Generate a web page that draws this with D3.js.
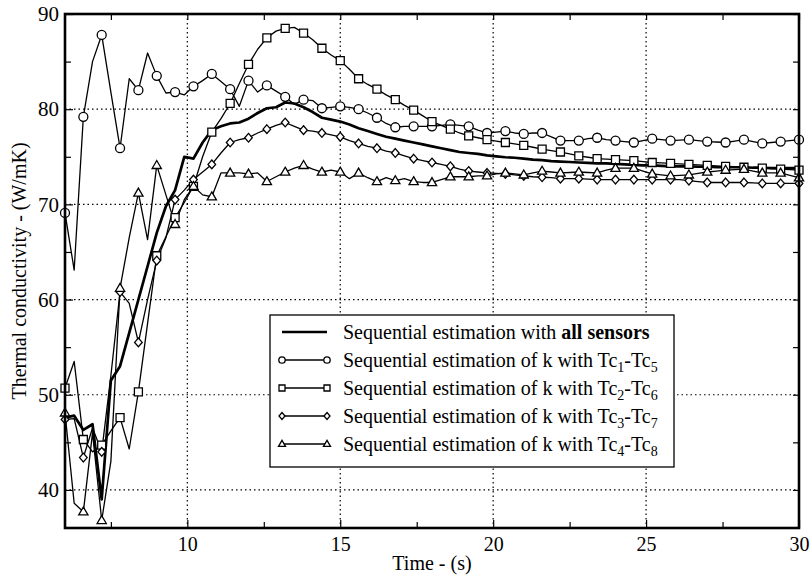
<!DOCTYPE html>
<html><head><meta charset="utf-8">
<script src="https://cdn.jsdelivr.net/npm/d3@7"></script>
<style>
html,body{margin:0;padding:0;background:#fff;}
svg{display:block;}
text, tspan{font-family:"Liberation Serif","Times New Roman",serif;fill:#000;}
</style></head>
<body>
<svg id="chart" width="812" height="577"></svg>
<script>
// ---- data ----
const times = [6.0,6.3,6.6,6.9,7.2,7.5,7.8,8.1,8.4,8.7,9.0,9.3,9.6,9.9,10.2,10.5,10.8,11.1,11.4,11.7,
12.0,12.3,12.6,12.9,13.2,13.5,13.8,14.1,14.4,14.7,15.0,15.3,15.6,15.9,16.2,16.5,16.8,17.1,17.4,17.7,
18.0,18.3,18.6,18.9,19.2,19.5,19.8,20.1,20.4,20.7,21.0,21.3,21.6,21.9,22.2,22.5,22.8,23.1,23.4,23.7,
24.0,24.3,24.6,24.9,25.2,25.5,25.8,26.1,26.4,26.7,27.0,27.3,27.6,27.9,28.2,28.5,28.8,29.1,29.4,29.7,30.0];

const allSensors = [47.6,47.8,46.3,46.9,39.0,51.5,53.0,56.5,60.0,63.5,
67.0,69.8,71.5,75.0,74.8,76.5,77.8,78.2,78.5,78.6,
79.0,79.6,80.1,80.2,80.7,80.6,80.2,79.7,79.1,78.9,
78.7,78.4,78.0,77.7,77.4,77.1,76.9,76.7,76.5,76.3,
76.1,75.9,75.7,75.5,75.4,75.3,75.15,75.05,74.95,74.9,
74.8,74.7,74.65,74.55,74.5,74.45,74.4,74.35,74.3,74.3,
74.25,74.2,74.15,74.1,74.1,74.05,74.0,74.0,74.0,73.95,
73.95,73.9,73.9,73.9,73.9,73.85,73.85,73.8,73.8,73.8,73.8];

const tc1tc5 = [69.1,63.1,79.2,85.0,87.8,81.8,75.9,83.2,82.0,85.9,
83.5,81.7,81.8,81.5,82.4,83.0,83.7,82.9,82.1,80.3,
83.0,81.8,82.5,81.9,81.3,80.5,81.0,80.9,80.1,80.2,
80.3,80.2,80.0,79.6,79.1,78.5,78.1,78.2,78.2,78.2,
78.2,78.3,78.4,78.3,78.2,77.8,77.5,77.6,77.7,77.5,
77.4,77.5,77.5,77.1,76.7,76.7,76.7,76.9,77.0,76.8,
76.7,76.6,76.5,76.7,76.9,76.8,76.7,76.75,76.8,76.7,
76.6,76.55,76.5,76.65,76.8,76.6,76.4,76.5,76.6,76.7,76.8];

const tc2tc6 = [50.7,53.5,45.3,44.0,44.7,46.2,47.6,44.3,50.3,57.5,
64.6,66.6,68.6,70.2,71.9,75.0,77.6,79.0,80.6,82.7,
84.7,86.3,87.5,88.2,88.5,88.6,88.0,87.3,86.4,85.7,
85.1,84.2,83.2,82.6,82.1,81.5,81.0,80.4,79.9,79.3,
78.7,78.3,77.9,77.5,77.2,77.0,76.8,76.65,76.5,76.35,
76.2,76.0,75.8,75.65,75.5,75.3,75.1,74.95,74.8,74.75,
74.7,74.65,74.6,74.5,74.4,74.35,74.3,74.25,74.2,74.15,
74.1,74.05,74.0,73.95,73.9,73.85,73.8,73.75,73.7,73.65,73.6];

const tc3tc7 = [47.4,47.5,43.4,46.5,44.0,52.0,60.8,59.6,55.5,60.0,
64.1,66.5,70.5,71.5,72.6,73.4,74.2,75.4,76.5,76.8,
77.0,77.5,77.9,78.3,78.6,78.2,77.8,77.7,77.5,77.3,
77.1,76.7,76.4,76.1,75.9,75.6,75.4,75.1,74.8,74.6,
74.4,74.2,74.0,73.7,73.5,73.4,73.3,73.25,73.2,73.1,
73.0,72.9,72.85,72.8,72.7,72.7,72.7,72.65,72.6,72.6,
72.6,72.6,72.6,72.6,72.6,72.6,72.6,72.6,72.5,72.4,
72.3,72.3,72.3,72.3,72.3,72.25,72.2,72.2,72.2,72.2,72.2];

const tc4tc8 = [48.1,38.6,37.7,46.0,36.8,43.0,61.2,66.5,71.2,66.3,
74.1,71.0,67.9,70.5,71.9,71.0,70.8,73.3,73.3,73.3,
73.2,73.3,72.4,72.9,73.4,73.8,74.1,73.7,73.4,73.6,
73.4,72.7,73.3,72.8,72.4,72.8,72.5,72.7,72.4,72.3,
72.3,72.6,72.9,72.9,72.9,73.0,73.0,73.2,73.3,73.2,
73.1,73.3,73.5,73.4,73.3,73.35,73.4,73.35,73.3,73.6,
73.8,73.8,73.8,73.5,73.2,73.1,73.0,73.05,73.1,73.25,
73.4,73.5,73.6,73.65,73.7,73.5,73.3,73.3,73.3,73.05,72.8];

const xMajorTicks = [10,15,20,25,30];
const xMinorTicks = [7.5,12.5,17.5,22.5,27.5];
const yMajorTicks = [40,50,60,70,80,90];
const yMinorTicks = [45,55,65,75,85];
const xGrid = [10,15,20,25];
const yGrid = [40,50,60,70,80];

const seriesDefs = [
  {name:"tc1", values:tc1tc5, marker:"circle", sub:["1","5"]},
  {name:"tc2", values:tc2tc6, marker:"square", sub:["2","6"]},
  {name:"tc3", values:tc3tc7, marker:"diamond", sub:["3","7"]},
  {name:"tc4", values:tc4tc8, marker:"triangle", sub:["4","8"]}
];

// ---- layout ----
const L = 65, R = 799, T = 14, B = 528;
const svg = d3.select("#chart");
const x = d3.scaleLinear().domain([6,30]).range([L,R]);
const y = d3.scaleLinear().domain([36,90]).range([B,T]);

// grid
const grid = svg.append("g").attr("stroke","#000").attr("stroke-width",1.2).attr("stroke-dasharray","1.5,3");
grid.selectAll("line.vx").data(xGrid).join("line")
  .attr("x1",d=>x(d)).attr("x2",d=>x(d)).attr("y1",T).attr("y2",B);
grid.selectAll("line.hy").data(yGrid).join("line")
  .attr("class","hy")
  .attr("x1",L).attr("x2",R).attr("y1",d=>y(d)).attr("y2",d=>y(d));

// axes
function styleAxis(g){ g.select(".domain").remove(); g.selectAll(".tick line").attr("stroke","#000").attr("stroke-width",1.2); }
const fs = 20;
const xb = svg.append("g").attr("transform",`translate(0,${B})`)
  .call(d3.axisBottom(x).tickValues(xMajorTicks).tickSize(-8).tickPadding(9).tickFormat(d3.format("d")));
styleAxis(xb); xb.selectAll("text").attr("font-size",fs).attr("font-family","Liberation Serif").attr("fill","#000");
const xbm = svg.append("g").attr("transform",`translate(0,${B})`)
  .call(d3.axisBottom(x).tickValues(xMinorTicks).tickSize(-6).tickFormat(""));
styleAxis(xbm);
const xt = svg.append("g").attr("transform",`translate(0,${T})`)
  .call(d3.axisTop(x).tickValues(xMinorTicks.concat(xMajorTicks)).tickSize(-6).tickFormat(""));
styleAxis(xt);

const yl = svg.append("g").attr("transform",`translate(${L},0)`)
  .call(d3.axisLeft(y).tickValues(yMajorTicks).tickSize(-8).tickPadding(6).tickFormat(d3.format("d")));
styleAxis(yl); yl.selectAll("text").attr("font-size",fs+1).attr("font-family","Liberation Serif").attr("fill","#000");
const ylm = svg.append("g").attr("transform",`translate(${L},0)`)
  .call(d3.axisLeft(y).tickValues(yMinorTicks).tickSize(-6).tickFormat(""));
styleAxis(ylm);
const yr = svg.append("g").attr("transform",`translate(${R},0)`)
  .call(d3.axisRight(y).tickValues(yMinorTicks.concat(yMajorTicks)).tickSize(-6).tickFormat(""));
styleAxis(yr);

// markers
function markerPath(type, s){
  if(type==="square") return `M${-s},${-s}H${s}V${s}H${-s}Z`;
  if(type==="diamond") return `M0,${-s*1.15}L${s*1.0},0L0,${s*1.15}L${-s*1.0},0Z`;
  if(type==="triangle") return `M0,${-s*1.15}L${s*1.1},${s*0.75}L${-s*1.1},${s*0.75}Z`;
  return null;
}
function drawMarker(g, type, cx, cy, s){
  if(type==="circle"){
    g.append("circle").attr("cx",cx).attr("cy",cy).attr("r",s)
      .attr("fill","#fff").attr("stroke","#000").attr("stroke-width",1.3);
  } else {
    g.append("path").attr("d",markerPath(type,s)).attr("transform",`translate(${cx},${cy})`)
      .attr("fill","#fff").attr("stroke","#000").attr("stroke-width",1.3);
  }
}

const line = d3.line().x((d,i)=>x(times[i])).y(d=>y(d));
const plot = svg.append("g");
seriesDefs.forEach(s=>{
  plot.append("path").attr("d",line(s.values)).attr("fill","none")
    .attr("stroke","#000").attr("stroke-width",1.3).attr("stroke-linejoin","round");
});
plot.append("path").attr("d",line(allSensors)).attr("fill","none")
  .attr("stroke","#000").attr("stroke-width",2.7).attr("stroke-linejoin","round");
const sizes = {circle:4.5, square:4, diamond:3.8, triangle:4.2};
seriesDefs.forEach(s=>{
  const mg = plot.append("g");
  s.values.forEach((v,i)=>{ if(i%2===0) drawMarker(mg, s.marker, x(times[i]), y(v), sizes[s.marker]); });
});

// frame
svg.append("rect").attr("x",L).attr("y",T).attr("width",R-L).attr("height",B-T)
  .attr("fill","none").attr("stroke","#000").attr("stroke-width",2.6);

// axis labels
svg.append("text").attr("x",(L+R)/2).attr("y",570).attr("text-anchor","middle")
  .attr("font-size",fs).text("Time - (s)");
svg.append("text").attr("transform",`translate(26,271) rotate(-90)`).attr("text-anchor","middle")
  .attr("font-size",fs).text("Thermal conductivity - (W/mK)");

// legend
const lg = svg.append("g");
lg.append("rect").attr("x",270).attr("y",315).attr("width",404).attr("height",152)
  .attr("fill","#fff").attr("stroke","#000").attr("stroke-width",1.3);
const rowY = [332,360,388,416,444];
lg.append("line").attr("x1",282).attr("x2",327).attr("y1",rowY[0]).attr("y2",rowY[0])
  .attr("stroke","#000").attr("stroke-width",2.4);
const t0 = lg.append("text").attr("x",343).attr("y",rowY[0]).attr("dy","0.33em").attr("font-size",fs);
t0.append("tspan").text("Sequential estimation with ");
t0.append("tspan").attr("font-weight","bold").text("all sensors");
const lsz = {circle:3.2, square:3, diamond:3, triangle:3.2};
seriesDefs.forEach((s,k)=>{
  const yy = rowY[k+1];
  lg.append("line").attr("x1",282).attr("x2",327).attr("y1",yy).attr("y2",yy)
    .attr("stroke","#000").attr("stroke-width",1.3);
  drawMarker(lg, s.marker, 282, yy, lsz[s.marker]);
  drawMarker(lg, s.marker, 327, yy, lsz[s.marker]);
  const t = lg.append("text").attr("x",343).attr("y",yy).attr("dy","0.33em").attr("font-size",fs).attr("fill","#000");
  t.append("tspan").text("Sequential estimation of k with Tc");
  t.append("tspan").attr("font-size",14).attr("dy",5).attr("fill","#000").text(s.sub[0]);
  t.append("tspan").attr("dy",-5).text("-Tc");
  t.append("tspan").attr("font-size",14).attr("dy",5).attr("fill","#000").text(s.sub[1]);
});
</script>
</body></html>
